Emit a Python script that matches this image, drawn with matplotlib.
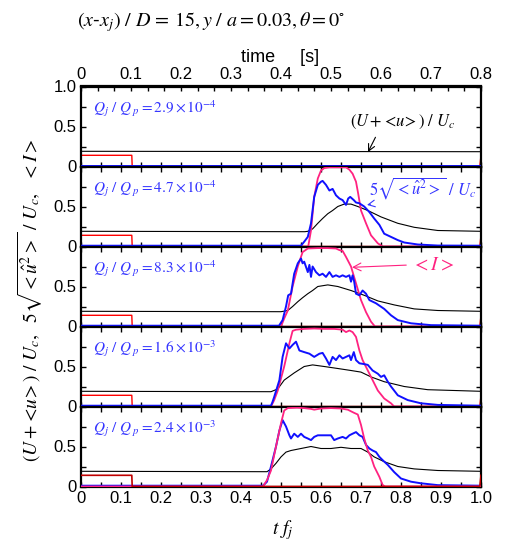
import numpy as np
import matplotlib
matplotlib.use("Agg")
import matplotlib.pyplot as plt
from matplotlib.ticker import MultipleLocator, AutoMinorLocator, FixedLocator

plt.rcParams['font.family'] = ['Liberation Sans', 'DejaVu Sans']
plt.rcParams['mathtext.fontset'] = 'stix'

# ---------------- data ----------------
q_labels = [r'$Q_j\ /\ Q_{\ p} = 2.9\times10^{-4}$',
            r'$Q_j\ /\ Q_{\ p} = 4.7\times10^{-4}$',
            r'$Q_j\ /\ Q_{\ p} = 8.3\times10^{-4}$',
            r'$Q_j\ /\ Q_{\ p} = 1.6\times10^{-3}$',
            r'$Q_j\ /\ Q_{\ p} = 2.4\times10^{-3}$']

trig_t = [0.0, 0.127, 0.128, 0.997, 1.0]
trig_v = [0.14, 0.14, 0.0, 0.0, 0.14]

# panel 1
U1_t = [0.0, 1.0]
U1 = [0.19, 0.185]
u1_t = [0.0, 1.0]
u1 = [0.01, 0.01]
I1_t = [0.0, 1.0]
I1 = [0.0, 0.0]

# panel 2
I2_t = [0.0, 0.568, 0.575, 0.583, 0.592, 0.600, 0.608, 0.621, 0.642, 0.6625, 0.671, 0.679,
        0.6875, 0.693, 0.700, 0.7125, 0.725, 0.742, 0.754, 1.0]
I2 = [0.0, 0.0, 0.20, 0.62, 0.85, 0.95, 0.98, 0.99, 0.99, 0.99, 0.96, 0.91,
      0.81, 0.66, 0.45, 0.29, 0.14, 0.04, 0.0, 0.0]
u2_t = [0.0, 0.55, 0.558, 0.567, 0.575, 0.583, 0.592, 0.600, 0.604, 0.6125, 0.621, 0.629,
        0.6375, 0.646, 0.654, 0.6625, 0.668, 0.673, 0.682, 0.6875, 0.696, 0.708, 0.721,
        0.733, 0.746, 0.758, 0.775, 0.792, 0.808, 0.842, 0.892, 1.0]
u2 = [0.01, 0.01, 0.06, 0.12, 0.29, 0.62, 0.77, 0.81, 0.82, 0.77, 0.70, 0.72,
      0.64, 0.60, 0.58, 0.52, 0.60, 0.62, 0.58, 0.55, 0.54, 0.50, 0.43,
      0.35, 0.27, 0.16, 0.12, 0.08, 0.05, 0.025, 0.012, 0.01]
U2_t = [0.0, 0.56, 0.567, 0.579, 0.592, 0.604, 0.617, 0.629, 0.642, 0.658, 0.675, 0.692,
        0.717, 0.75, 0.792, 0.833, 0.892, 1.0]
U2 = [0.19, 0.185, 0.19, 0.22, 0.29, 0.35, 0.41, 0.45, 0.50, 0.53, 0.53, 0.50,
      0.45, 0.37, 0.29, 0.24, 0.20, 0.19]

# panel 3
I3_t = [0.0, 0.5, 0.508, 0.517, 0.529, 0.542, 0.554, 0.567, 0.592, 0.617, 0.6375, 0.646,
        0.654, 0.6625, 0.675, 0.6875, 0.70, 0.7125, 0.725, 0.735, 1.0]
I3 = [0.0, 0.0, 0.10, 0.20, 0.50, 0.75, 0.93, 0.975, 0.98, 0.98, 0.975, 0.955,
      0.945, 0.87, 0.75, 0.54, 0.33, 0.18, 0.06, 0.0, 0.0]
u3_t = [0.0, 0.495, 0.504, 0.5125, 0.518, 0.525, 0.533, 0.542, 0.55, 0.554, 0.558, 0.567,
        0.571, 0.575, 0.579, 0.5875, 0.596, 0.604, 0.6125, 0.621, 0.629, 0.6375, 0.646,
        0.654, 0.6625, 0.671, 0.675, 0.679, 0.683, 0.6875, 0.696, 0.704, 0.7125, 0.721,
        0.7375, 0.758, 0.775, 0.792, 0.825, 0.875, 1.0]
u3 = [0.01, 0.01, 0.08, 0.25, 0.39, 0.41, 0.66, 0.79, 0.85, 0.79, 0.81, 0.68,
      0.77, 0.62, 0.75, 0.68, 0.64, 0.66, 0.62, 0.68, 0.62, 0.64, 0.62,
      0.64, 0.62, 0.64, 0.56, 0.64, 0.56, 0.41, 0.39, 0.45, 0.41, 0.33,
      0.29, 0.22, 0.14, 0.08, 0.04, 0.017, 0.01]
U3_t = [0.0, 0.5, 0.517, 0.529, 0.542, 0.554, 0.567, 0.579, 0.592, 0.617, 0.642, 0.675,
        0.708, 0.742, 0.783, 0.833, 0.892, 1.0]
U3 = [0.19, 0.185, 0.20, 0.25, 0.31, 0.36, 0.41, 0.45, 0.50, 0.52, 0.50, 0.45,
      0.39, 0.32, 0.27, 0.22, 0.20, 0.19]

# panel 4
I4_t = [0.0, 0.475, 0.483, 0.492, 0.5, 0.508, 0.521, 0.529, 0.5375, 0.558, 0.583, 0.608,
        0.633, 0.654, 0.6625, 0.671, 0.679, 0.6875, 0.696, 0.704, 0.717, 0.729, 0.742,
        0.758, 0.775, 0.783, 1.0]
I4 = [0.0, 0.0, 0.08, 0.20, 0.35, 0.50, 0.79, 0.945, 0.96, 0.97, 0.975, 0.97,
      0.97, 0.96, 0.93, 0.95, 0.93, 0.87, 0.70, 0.58, 0.45, 0.33, 0.20,
      0.10, 0.04, 0.0, 0.0]
u4_t = [0.0, 0.475, 0.479, 0.483, 0.496, 0.504, 0.5125, 0.521, 0.529, 0.5375, 0.546, 0.558,
        0.571, 0.583, 0.596, 0.604, 0.6125, 0.621, 0.629, 0.6375, 0.646, 0.654, 0.6625,
        0.671, 0.675, 0.682, 0.6875, 0.696, 0.708, 0.717, 0.729, 0.742, 0.75, 0.758,
        0.767, 0.775, 0.792, 0.817, 0.85, 0.892, 1.0]
u4 = [0.01, 0.01, 0.06, 0.12, 0.33, 0.62, 0.79, 0.725, 0.77, 0.81, 0.70, 0.68,
      0.66, 0.62, 0.66, 0.67, 0.60, 0.52, 0.62, 0.58, 0.64, 0.60, 0.62,
      0.64, 0.58, 0.68, 0.58, 0.54, 0.53, 0.52, 0.45, 0.41, 0.37, 0.39,
      0.31, 0.25, 0.14, 0.08, 0.04, 0.02, 0.01]
U4_t = [0.0, 0.475, 0.492, 0.508, 0.533, 0.558, 0.579, 0.608, 0.642, 0.675, 0.70, 0.725,
        0.758, 0.808, 0.867, 1.0]
U4 = [0.19, 0.185, 0.22, 0.33, 0.42, 0.50, 0.52, 0.50, 0.475, 0.45, 0.43, 0.37,
      0.31, 0.25, 0.21, 0.19]

# panel 5
I5_t = [0.0, 0.455, 0.465, 0.475, 0.4875, 0.50, 0.508, 0.517, 0.54, 0.558, 0.575, 0.583,
        0.60, 0.625, 0.65, 0.667, 0.675, 0.683, 0.692, 0.70, 0.708, 0.717, 0.725, 0.733,
        0.746, 0.754, 0.76, 1.0]
I5 = [0.0, 0.0, 0.08, 0.20, 0.50, 0.79, 0.95, 0.98, 0.985, 0.98, 0.97, 0.96,
      0.975, 0.98, 0.975, 0.96, 0.94, 0.92, 0.90, 0.77, 0.60, 0.45, 0.37, 0.25,
      0.12, 0.02, 0.0, 0.0]
u5_t = [0.0, 0.455, 0.465, 0.475, 0.4875, 0.496, 0.504, 0.5125, 0.521, 0.525, 0.533, 0.542,
        0.55, 0.558, 0.567, 0.575, 0.583, 0.592, 0.608, 0.625, 0.633, 0.642, 0.654, 0.6625,
        0.671, 0.679, 0.6875, 0.696, 0.704, 0.7125, 0.721, 0.729, 0.7375, 0.746, 0.754,
        0.767, 0.783, 0.80, 0.825, 0.85, 0.892, 1.0]
u5 = [0.01, 0.01, 0.06, 0.25, 0.50, 0.70, 0.83, 0.75, 0.64, 0.60, 0.66, 0.62,
      0.66, 0.62, 0.60, 0.58, 0.62, 0.64, 0.64, 0.64, 0.58, 0.60, 0.62, 0.60,
      0.64, 0.66, 0.68, 0.64, 0.62, 0.52, 0.475, 0.45, 0.43, 0.37, 0.33,
      0.27, 0.18, 0.10, 0.06, 0.04, 0.017, 0.01]
U5_t = [0.0, 0.465, 0.475, 0.4875, 0.5, 0.5125, 0.525, 0.55, 0.575, 0.6, 0.625, 0.65,
        0.675, 0.70, 0.717, 0.733, 0.758, 0.792, 0.833, 0.892, 1.0]
U5 = [0.19, 0.185, 0.22, 0.29, 0.37, 0.43, 0.45, 0.475, 0.50, 0.475, 0.475, 0.49,
      0.475, 0.475, 0.43, 0.37, 0.31, 0.25, 0.22, 0.20, 0.19]

panels = [(I1_t, I1, u1_t, u1, U1_t, U1),
          (I2_t, I2, u2_t, u2, U2_t, U2),
          (I3_t, I3, u3_t, u3, U3_t, U3),
          (I4_t, I4, u4_t, u4, U4_t, U4),
          (I5_t, I5, u5_t, u5, U5_t, U5)]

PINK = '#ff2280'
BLUE = '#1010ff'
QBLUE = '#3535ff'

# ---------------- figure ----------------
W, H = 515, 545
fig = plt.figure(figsize=(W / 100, H / 100), dpi=100)
left, right = 81 / W, 481 / W
top, bottom = 1 - 86.5 / H, 1 - 486.5 / H
ph = (top - bottom) / 5
axes = []
for i in range(5):
    ax = fig.add_axes([left, top - (i + 1) * ph, right - left, ph])
    axes.append(ax)

for i, ax in enumerate(axes):
    It, Iv, ut, uv, Ut, Uv = panels[i]
    ax.plot(Ut, Uv, color='black', lw=0.8, zorder=2)
    if i == 4:
        ax.plot(ut, uv, color=BLUE, lw=1.4, zorder=3)
        ax.plot(It, Iv, color=PINK, lw=1.3, zorder=4)
        ax.plot(trig_t, trig_v, color='#c00000', lw=1.2, zorder=5)
    else:
        ax.plot(trig_t, trig_v, color='red', lw=1.0, zorder=2.5)
        ax.plot(It, Iv, color=PINK, lw=1.3, zorder=3)
        ax.plot(ut, uv, color=BLUE, lw=1.4, zorder=4)
    ax.set_xlim(0, 1.0)
    ax.set_ylim(0, 1.0)
    ax.xaxis.set_major_locator(MultipleLocator(0.1))
    ax.xaxis.set_minor_locator(MultipleLocator(0.05))
    ax.tick_params(which='both', direction='in', length=3.8, width=1.0,
                   top=(i != 0), right=True, labelsize=12, pad=3)
    for s in ax.spines.values():
        s.set_linewidth(1.6)
    if i == 0:
        ax.set_yticks([0, 0.5, 1.0])
        ax.set_yticklabels(['0', '0.5', '1.0'])
        ax.yaxis.set_minor_locator(FixedLocator([0.25, 0.75]))
    else:
        ax.set_yticks([0, 0.5])
        ax.set_yticklabels(['0', '0.5'])
        ax.yaxis.set_minor_locator(FixedLocator([0.25, 0.75, 1.0]))
    if i < 4:
        ax.tick_params(labelbottom=False)
    else:
        ax.set_xticks(np.round(np.arange(0, 1.01, 0.1), 1))
        ax.set_xticklabels(['0'] + ['%.1f' % v for v in np.arange(0.1, 1.01, 0.1)])
    ax.text(0.03, 0.72, q_labels[i], transform=ax.transAxes, color=QBLUE,
            fontsize=11, ha='left', va='center')

# top time axis
sec = axes[0].secondary_xaxis('top', functions=(lambda t: t * 0.8, lambda s: s / 0.8))
sec.xaxis.set_major_locator(MultipleLocator(0.1))
sec.xaxis.set_minor_locator(AutoMinorLocator(3))
sec.tick_params(which='both', direction='in', length=3.8, width=1.0, labelsize=12, pad=3)
sec.set_xticks(np.round(np.arange(0, 0.81, 0.1), 1))
sec.set_xticklabels(['0'] + ['%.1f' % v for v in np.arange(0.1, 0.81, 0.1)])
sec.spines['top'].set_linewidth(1.6)

# annotations
axes[0].annotate(r'$(U+\!<\!u\!>)\ /\ U_c$', xy=(0.7175, 0.18), xytext=(0.805, 0.56),
                 fontsize=12, ha='center', va='center', color='black',
                 arrowprops=dict(arrowstyle='->', color='black', lw=0.8,
                                 shrinkA=3, shrinkB=0, relpos=(0.27, 0.0)))
axes[1].annotate(r'$5\sqrt{<\hat{u}^2>}\ /\ U_c$', xy=(0.715, 0.52), xytext=(0.855, 0.73),
                 fontsize=12, ha='center', va='center', color=QBLUE,
                 arrowprops=dict(arrowstyle='->', color=QBLUE, lw=0.8,
                                 shrinkA=2, shrinkB=0, relpos=(0.18, 0.0)))
axes[2].annotate(r'$<I>$', xy=(0.6775, 0.74), xytext=(0.88, 0.77),
                 fontsize=14, ha='center', va='center', color=PINK,
                 arrowprops=dict(arrowstyle='->', color=PINK, lw=0.8,
                                 shrinkA=2, shrinkB=0, relpos=(0.0, 0.5)))

# labels
fig.text(280 / W, 1 - 57 / H, 'time     [s]', fontsize=13, ha='center', va='center')
fig.text(77 / W, 1 - 22 / H,
         r'$(x$-$x_j)\ /\ D\,=\,15, y\ /\ a = 0.03, \theta = 0^{\circ}$',
         fontsize=14.5, ha='left', va='center')
fig.text(30 / W, 1 - 300 / H,
         r'$(U+\!<\!u\!>)\ /\ U_c,\ \ 5\sqrt{<\hat{u}^2>}\ /\ U_c,\ \ <I>$',
         fontsize=14, rotation=90, ha='center', va='center')
fig.text(283 / W, 1 - 530 / H, r'$t\ f_j$', fontsize=14, ha='center', va='center')

fig.savefig('out.png', dpi=100)
